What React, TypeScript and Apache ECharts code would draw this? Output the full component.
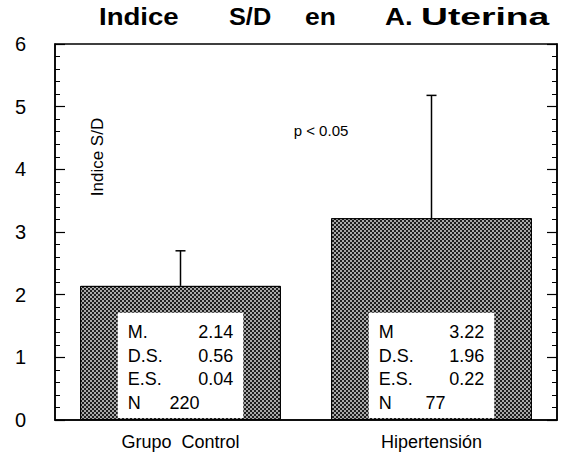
import React, { useEffect, useRef } from "react";
import * as echarts from "echarts";

const categories = ["Grupo  Control", "Hipertensión"];
const means = [2.14, 3.22];
const sds = [0.56, 1.96];
const ses = [0.04, 0.22];
const ns = [220, 77];
const meanLabels = ["M.", "M"];
const boxTops = [1.71, 1.71];
const yTicks = [0, 1, 2, 3, 4, 5, 6];
const titleWords = ["Indice", "S/D", "en", "A.", "Uterina"];
const axisName = "Indice S/D";
const pText = "p < 0.05";

const FONT = "'Liberation Sans', Arial, Helvetica, sans-serif";

export default function App() {
  const ref = useRef<HTMLDivElement>(null);
  useEffect(() => {
    if (!ref.current) return;
    const chart = echarts.init(ref.current, null, { renderer: "svg" });
    const titleX = [99, 229, 305, 385, 421];
    const titleScale = [1.2, 1.1, 1.15, 1.2, 1.62];
    const option: any = {
      animation: false,
      backgroundColor: "#fff",
      grid: {
        left: 55,
        right: 5,
        top: 44,
        bottom: 38,
        show: true,
        borderColor: "#000",
        borderWidth: 1.5,
        backgroundColor: "transparent",
      },
      xAxis: {
        type: "category",
        data: categories,
        axisTick: { show: false },
        axisLine: { lineStyle: { color: "#000", width: 1.5 } },
        axisLabel: { color: "#000", fontSize: 18, fontFamily: FONT, margin: 13 },
      },
      yAxis: [
        {
          type: "value",
          min: yTicks[0],
          max: yTicks[yTicks.length - 1],
          interval: 1,
          splitLine: { show: false },
          axisLine: { show: true, lineStyle: { color: "#000", width: 1.5 } },
          axisTick: { show: true, inside: true, length: 10, lineStyle: { color: "#000", width: 1.2 } },
          minorTick: { show: true, splitNumber: 5, length: 5, lineStyle: { color: "#000", width: 1 } },
          axisLabel: { color: "#000", fontSize: 20, fontFamily: FONT, margin: 29 },
        },
        {
          type: "value",
          position: "right",
          min: yTicks[0],
          max: yTicks[yTicks.length - 1],
          interval: 1,
          splitLine: { show: false },
          axisLine: { show: true, lineStyle: { color: "#000", width: 1.5 } },
          axisTick: { show: true, inside: true, length: 10, lineStyle: { color: "#000", width: 1.2 } },
          minorTick: { show: true, splitNumber: 5, length: 5, lineStyle: { color: "#000", width: 1 } },
          axisLabel: { show: false },
        },
      ],
      series: [
        {
          type: "bar",
          data: means,
          barWidth: "80%",
          itemStyle: {
            color: "#1e1e1e",
            borderColor: "#000",
            borderWidth: 1,
            decal: {
              symbol: "rect",
              symbolSize: 1,
              color: "rgba(255,255,255,0.62)",
              dashArrayX: [[2, 2], [0, 2, 2, 0]],
              dashArrayY: [2, 0],
              rotation: 0,
            },
          },
          z: 2,
        },
        {
          type: "custom",
          z: 5,
          data: means.map((m, i) => [i, m, m + sds[i]]),
          renderItem: (params: any, api: any) => {
            const x = api.value(0);
            const base = api.coord([x, api.value(1)]);
            const top = api.coord([x, api.value(2)]);
            return {
              type: "group",
              children: [
                { type: "line", shape: { x1: base[0], y1: base[1], x2: top[0], y2: top[1] }, style: { stroke: "#000", lineWidth: 1.5 } },
                { type: "line", shape: { x1: top[0] - 5, y1: top[1], x2: top[0] + 5, y2: top[1] }, style: { stroke: "#000", lineWidth: 1.5 } },
              ],
            };
          },
        },
        {
          type: "custom",
          z: 6,
          data: boxTops.map((b, i) => [i, b]),
          renderItem: (params: any, api: any) => {
            const i = params.dataIndex;
            const x = api.value(0);
            const tp = api.coord([x, api.value(1)]);
            const bt = api.coord([x, 0]);
            const band = api.size([1, 0])[0];
            const w = band * 0.5;
            const cx = tp[0];
            const h = bt[1] - 2 - tp[1];
            const rowY = [tp[1] + 19, tp[1] + 43, tp[1] + 66, tp[1] + 90];
            const font = `18px ${FONT}`;
            const mk = (t: string, xx: number, yy: number, al: string) => ({
              type: "text",
              style: { text: t, x: xx, y: yy, font, fill: "#000", textAlign: al, textVerticalAlign: "middle" },
            });
            const lab = [meanLabels[i], "D.S.", "E.S.", "N"];
            const val = [means[i].toFixed(2), sds[i].toFixed(2), ses[i].toFixed(2)];
            const children: any[] = [
              { type: "rect", shape: { x: cx - w / 2, y: tp[1], width: w, height: h }, style: { fill: "#fff" } },
            ];
            lab.forEach((l, k) => children.push(mk(l, cx - w / 2 + 10, rowY[k], "left")));
            val.forEach((v, k) => children.push(mk(v, cx + w / 2 - 10, rowY[k], "right")));
            children.push(mk(String(ns[i]), cx + 4, rowY[3], "center"));
            return { type: "group", children };
          },
        },
      ],
      graphic: [
        ...titleWords.map((t, k) => ({
          type: "text",
          x: titleX[k],
          y: 17,
          scaleX: titleScale[k],
          style: { text: t, font: `bold 23px ${FONT}`, fill: "#000", textVerticalAlign: "middle" },
        })),
        {
          type: "text",
          x: 97,
          y: 157,
          rotation: Math.PI / 2,
          style: { text: axisName, font: `17px ${FONT}`, fill: "#000", textAlign: "center", textVerticalAlign: "middle" },
        },
        {
          type: "text",
          x: 321,
          y: 130,
          style: { text: pText, font: `15px ${FONT}`, fill: "#000", textAlign: "center", textVerticalAlign: "middle" },
        },
      ],
    };
    chart.setOption(option);
    return () => chart.dispose();
  }, []);
  return <div ref={ref} style={{ width: 562, height: 458, position: "absolute", left: 0, top: 0 }} />;
}
